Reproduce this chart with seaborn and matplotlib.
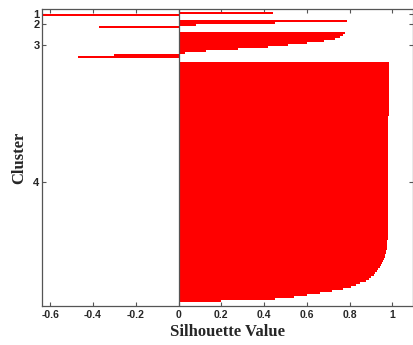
import numpy as np
import pandas as pd
import matplotlib
matplotlib.use("Agg")
import matplotlib.pyplot as plt
import seaborn as sns

# Silhouette values per cluster (sorted descending within each cluster, top to bottom)
cluster1 = [0.44, -0.64]
cluster2 = [0.79, 0.45, 0.08, -0.37]
cluster3 = [0.78, 0.77, 0.755, 0.73, 0.68, 0.60, 0.51, 0.42, 0.28, 0.13, 0.03,
            -0.30, -0.47]
cluster4 = [
    0.984, 0.984, 0.984, 0.984, 0.984, 0.984, 0.984, 0.984, 0.984, 0.984, 0.984, 0.984,
    0.983, 0.983, 0.983, 0.983, 0.983, 0.983, 0.983, 0.983, 0.983, 0.983, 0.983, 0.983,
    0.983, 0.983, 0.983,
    0.982, 0.982, 0.982, 0.982, 0.982, 0.982, 0.982, 0.982, 0.982, 0.982, 0.982, 0.982,
    0.982, 0.982, 0.982,
    0.981, 0.981, 0.981, 0.981, 0.981, 0.981, 0.981, 0.981, 0.981, 0.981, 0.981, 0.981,
    0.981, 0.981, 0.981,
    0.980, 0.980, 0.980, 0.980, 0.980, 0.980, 0.980, 0.980, 0.980, 0.980, 0.980, 0.980,
    0.980, 0.980, 0.980, 0.980,
    0.979, 0.979, 0.979, 0.979, 0.979, 0.979, 0.979, 0.979, 0.979, 0.979,
    0.978, 0.978, 0.978, 0.978, 0.978, 0.978,
    0.977, 0.976, 0.975, 0.974, 0.973, 0.972, 0.970, 0.968, 0.965, 0.962,
    0.958, 0.953, 0.948, 0.942, 0.935, 0.927, 0.920, 0.912, 0.902, 0.890,
    0.875, 0.851, 0.830, 0.805, 0.770, 0.720, 0.664, 0.600, 0.540, 0.450,
    0.200,
]
cluster_labels = ["1", "2", "3", "4"]
x_ticks = [-0.6, -0.4, -0.2, 0, 0.2, 0.4, 0.6, 0.8, 1]
x_tick_labels = ["-0.6", "-0.4", "-0.2", "0", "0.2", "0.4", "0.6", "0.8", "1"]

clusters = [cluster1, cluster2, cluster3, cluster4]

# Build row positions: clusters stacked with a small gap between them
rows, vals, labs, centers = [], [], [], []
start, gap = 2, 2
for lab, vs in zip(cluster_labels, clusters):
    pos = list(range(start, start + len(vs)))
    rows += pos
    vals += vs
    labs += [lab] * len(vs)
    centers.append((pos[0] + pos[-1]) / 2)
    start = pos[-1] + 1 + gap
df = pd.DataFrame({"row": rows, "value": vals, "cluster": labs})

sns.set_style("white")
plt.rcParams["font.family"] = ["Liberation Sans", "DejaVu Sans"]

fig = plt.figure(figsize=(4.13, 3.45), dpi=100)
ax = fig.add_axes([42.3 / 413, 1 - 306 / 345, (413.5 - 42.3) / 413, (306 - 9) / 345])

sns.barplot(data=df, x="value", y="row", orient="y", native_scale=True,
            width=1.0, color="#ff0000", saturation=1, errorbar=None,
            linewidth=0, ax=ax)

# make adjacent bars of a cluster touch without seams
for p in ax.patches:
    yc = p.get_y() + p.get_height() / 2
    p.set_y(yc - 0.55)
    p.set_height(1.1)
    p.set_edgecolor("none")

ax.axvline(0, color="#555555", lw=0.9, zorder=3)

ax.set_xlim(-0.637, 1.099)
ax.set_ylim(148.5, 0)
ax.set_xticks(x_ticks)
ax.set_xticklabels(x_tick_labels, fontsize=7.5, fontweight="bold")
ax.set_yticks(centers)
ax.set_yticklabels(cluster_labels, fontsize=8, fontweight="bold")

ax.tick_params(axis="both", direction="in", length=3, width=0.8, color="#555555",
               top=True, right=True, bottom=True, left=True)
ax.tick_params(axis="x", pad=3)
ax.tick_params(axis="y", pad=2)

for s in ax.spines.values():
    s.set_visible(True)
    s.set_color("#555555")
    s.set_linewidth(0.9)

ax.set_xlabel("Silhouette Value", fontsize=12, fontweight="bold",
              family=["Liberation Serif", "DejaVu Serif"], labelpad=3)
ax.set_ylabel("Cluster", fontsize=12, fontweight="bold",
              family=["Liberation Serif", "DejaVu Serif"], labelpad=4)

fig.savefig("out.png", dpi=100)
